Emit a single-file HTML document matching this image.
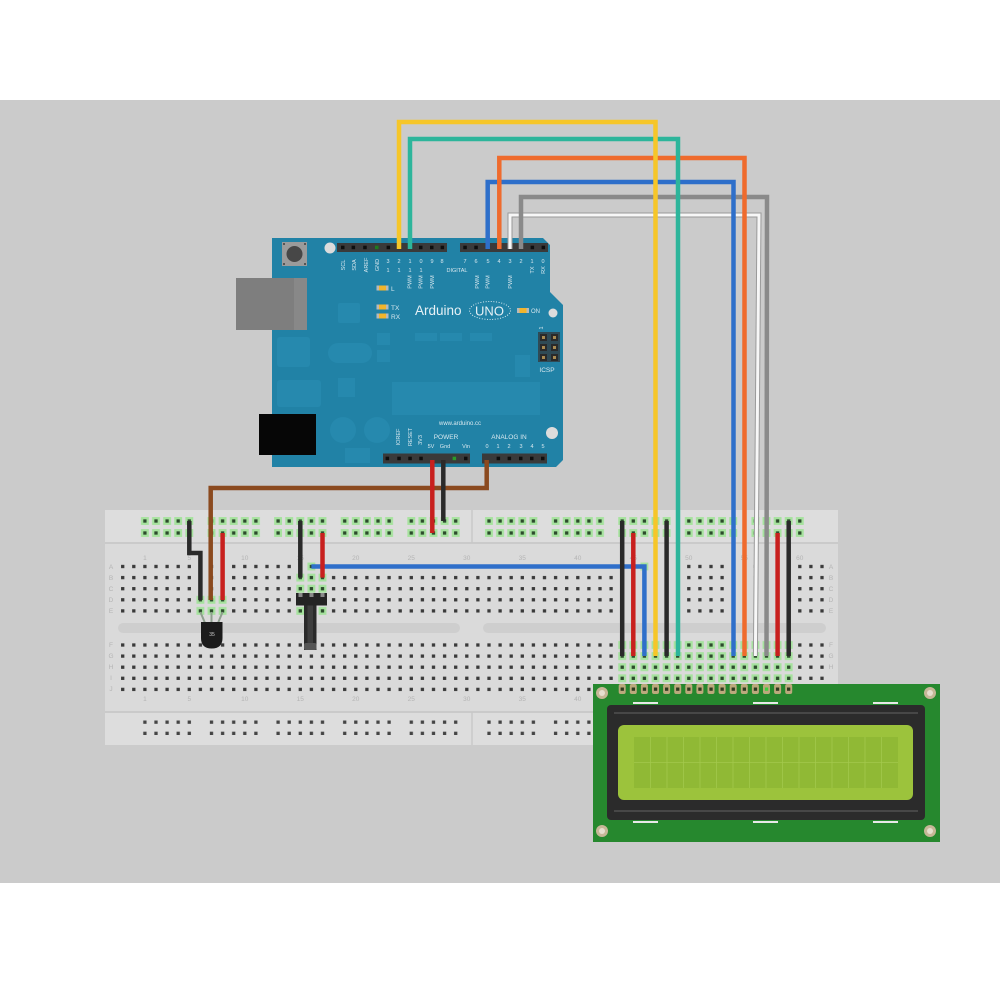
<!DOCTYPE html>
<html><head><meta charset="utf-8"><style>
html,body{margin:0;padding:0;background:#fff;}
svg{display:block;}
text{font-family:"Liberation Sans",sans-serif;}
</style></head><body>
<svg width="1000" height="1000" viewBox="0 0 1000 1000" xmlns="http://www.w3.org/2000/svg">
<defs>
<pattern id="hA" x="117.15" y="560.95" width="11.1" height="11.1" patternUnits="userSpaceOnUse"><rect x="3.9" y="3.9" width="3.3" height="3.3" fill="#3a3a3a"/></pattern>
<pattern id="hB" x="117.15" y="639.45" width="11.1" height="11.1" patternUnits="userSpaceOnUse"><rect x="3.9" y="3.9" width="3.3" height="3.3" fill="#3a3a3a"/></pattern>
<pattern id="gA" x="117.15" y="560.95" width="11.1" height="11.1" patternUnits="userSpaceOnUse"><rect x="1.6" y="1.6" width="7.9" height="7.9" fill="#a6e29e"/><rect x="3.9" y="3.9" width="3.3" height="3.3" fill="#2c4a2c"/></pattern>
<pattern id="gB" x="117.15" y="639.45" width="11.1" height="11.1" patternUnits="userSpaceOnUse"><rect x="1.6" y="1.6" width="7.9" height="7.9" fill="#a6e29e"/><rect x="3.9" y="3.9" width="3.3" height="3.3" fill="#2c4a2c"/></pattern>
<g id="rg5">
</g>
<pattern id="rgL" x="139.35" y="515" width="66.6" height="12" patternUnits="userSpaceOnUse">
 <g fill="#a6e29e"><rect x="1.6" y="2.05" width="7.9" height="7.9"/><rect x="12.7" y="2.05" width="7.9" height="7.9"/><rect x="23.8" y="2.05" width="7.9" height="7.9"/><rect x="34.9" y="2.05" width="7.9" height="7.9"/><rect x="46" y="2.05" width="7.9" height="7.9"/></g>
 <g fill="#2c4a2c"><rect x="3.9" y="4.35" width="3.3" height="3.3"/><rect x="15" y="4.35" width="3.3" height="3.3"/><rect x="26.1" y="4.35" width="3.3" height="3.3"/><rect x="37.2" y="4.35" width="3.3" height="3.3"/><rect x="48.3" y="4.35" width="3.3" height="3.3"/></g>
</pattern>
<pattern id="rgR" x="483.45" y="515" width="66.6" height="12" patternUnits="userSpaceOnUse">
 <g fill="#a6e29e"><rect x="1.6" y="2.05" width="7.9" height="7.9"/><rect x="12.7" y="2.05" width="7.9" height="7.9"/><rect x="23.8" y="2.05" width="7.9" height="7.9"/><rect x="34.9" y="2.05" width="7.9" height="7.9"/><rect x="46" y="2.05" width="7.9" height="7.9"/></g>
 <g fill="#2c4a2c"><rect x="3.9" y="4.35" width="3.3" height="3.3"/><rect x="15" y="4.35" width="3.3" height="3.3"/><rect x="26.1" y="4.35" width="3.3" height="3.3"/><rect x="37.2" y="4.35" width="3.3" height="3.3"/><rect x="48.3" y="4.35" width="3.3" height="3.3"/></g>
</pattern>
<pattern id="rbL" x="139.35" y="716.5" width="66.6" height="11.2" patternUnits="userSpaceOnUse">
 <g fill="#444"><rect x="3.9" y="4" width="3.3" height="3.3"/><rect x="15" y="4" width="3.3" height="3.3"/><rect x="26.1" y="4" width="3.3" height="3.3"/><rect x="37.2" y="4" width="3.3" height="3.3"/><rect x="48.3" y="4" width="3.3" height="3.3"/></g>
</pattern>
<pattern id="rbR" x="483.45" y="716.5" width="66.6" height="11.2" patternUnits="userSpaceOnUse">
 <g fill="#444"><rect x="3.9" y="4" width="3.3" height="3.3"/><rect x="15" y="4" width="3.3" height="3.3"/><rect x="26.1" y="4" width="3.3" height="3.3"/><rect x="37.2" y="4" width="3.3" height="3.3"/><rect x="48.3" y="4" width="3.3" height="3.3"/></g>
</pattern>
</defs>

<!-- background -->
<rect x="0" y="0" width="1000" height="1000" fill="#ffffff"/>
<rect x="0" y="100" width="1000" height="783" fill="#cbcbcb"/>

<!-- breadboard -->
<rect x="105" y="510" width="733" height="235" fill="#dadada"/>
<rect x="105" y="510" width="733" height="33" fill="#dddddd"/>
<rect x="105" y="712" width="733" height="33" fill="#dddddd"/>
<line x1="105" y1="543" x2="838" y2="543" stroke="#c4c4c4" stroke-width="1.5"/>
<line x1="105" y1="712" x2="838" y2="712" stroke="#c4c4c4" stroke-width="1.5"/>
<line x1="472" y1="510" x2="472" y2="543" stroke="#c8c8c8" stroke-width="1.5"/>
<line x1="472" y1="712" x2="472" y2="745" stroke="#c8c8c8" stroke-width="1.5"/>
<rect x="118" y="623" width="342" height="10" rx="5" fill="#cecece"/>
<rect x="483" y="623" width="343" height="10" rx="5" fill="#cecece"/>

<rect x="117.15" y="560.95" width="710.4" height="55.5" fill="url(#hA)"/>
<rect x="117.15" y="639.45" width="710.4" height="55.5" fill="url(#hB)"/>
<rect x="139.35" y="515" width="333" height="24" fill="url(#rgL)"/>
<rect x="483.45" y="515" width="333" height="24" fill="url(#rgR)"/>
<rect x="139.35" y="716.5" width="333" height="22.4" fill="url(#rbL)"/>
<rect x="483.45" y="716.5" width="333" height="22.4" fill="url(#rbR)"/>

<!-- highlights -->
<rect x="194.85" y="594.25" width="33.3" height="22.2" fill="url(#gA)"/>
<rect x="294.75" y="572.05" width="33.3" height="44.4" fill="url(#gA)"/>
<rect x="305.85" y="560.95" width="11.1" height="11.1" fill="url(#gA)"/>
<rect x="638.85" y="560.95" width="11.1" height="11.1" fill="url(#gA)"/>
<rect x="616.65" y="639.45" width="177.6" height="55.5" fill="url(#gB)"/>

<!-- breadboard labels -->
<g font-size="6.5" fill="#b4b4b4" text-anchor="middle">
<text x="144.9" y="560">1</text><text x="189.3" y="560">5</text><text x="244.8" y="560">10</text><text x="300.3" y="560">15</text><text x="355.8" y="560">20</text><text x="411.3" y="560">25</text><text x="466.8" y="560">30</text><text x="522.3" y="560">35</text><text x="577.8" y="560">40</text><text x="633.3" y="560">45</text><text x="688.8" y="560">50</text><text x="744.3" y="560">55</text><text x="799.8" y="560">60</text>
<text x="144.9" y="701">1</text><text x="189.3" y="701">5</text><text x="244.8" y="701">10</text><text x="300.3" y="701">15</text><text x="355.8" y="701">20</text><text x="411.3" y="701">25</text><text x="466.8" y="701">30</text><text x="522.3" y="701">35</text><text x="577.8" y="701">40</text>
<text x="111" y="569">A</text><text x="111" y="580">B</text><text x="111" y="591">C</text><text x="111" y="602">D</text><text x="111" y="613">E</text>
<text x="111" y="647">F</text><text x="111" y="658">G</text><text x="111" y="669">H</text><text x="111" y="680">I</text><text x="111" y="691">J</text>
<text x="831" y="569">A</text><text x="831" y="580">B</text><text x="831" y="591">C</text><text x="831" y="602">D</text><text x="831" y="613">E</text>
<text x="831" y="647">F</text><text x="831" y="658">G</text><text x="831" y="669">H</text>
</g>

<!-- LCD -->
<rect x="593" y="684" width="347" height="158" fill="#26882e"/>
<g fill="#c6b797"><circle cx="602" cy="693" r="6"/><circle cx="930" cy="693" r="6"/><circle cx="602" cy="831" r="6"/><circle cx="930" cy="831" r="6"/></g>
<g fill="#e6dfcf"><circle cx="602" cy="693" r="3"/><circle cx="930" cy="693" r="3"/><circle cx="602" cy="831" r="3"/><circle cx="930" cy="831" r="3"/></g>
<g fill="#e8e8e8"><rect x="633" y="702" width="25" height="2"/><rect x="753" y="702" width="25" height="2"/><rect x="873" y="702" width="25" height="2"/><rect x="633" y="821" width="25" height="2"/><rect x="753" y="821" width="25" height="2"/><rect x="873" y="821" width="25" height="2"/></g>
<rect x="607" y="705" width="318" height="115" rx="4" fill="#2b2b2b"/>
<rect x="614" y="712" width="304" height="2" fill="#474747"/>
<rect x="614" y="810" width="304" height="2" fill="#474747"/>
<rect x="618" y="725" width="295" height="75" rx="6" fill="#9cc33c"/>
<rect x="634" y="737" width="264" height="51" fill="#90b935"/>
<g stroke="#a3c84d" stroke-width="0.8">
<line x1="650.5" y1="737" x2="650.5" y2="788"/><line x1="667" y1="737" x2="667" y2="788"/><line x1="683.5" y1="737" x2="683.5" y2="788"/><line x1="700" y1="737" x2="700" y2="788"/><line x1="716.5" y1="737" x2="716.5" y2="788"/><line x1="733" y1="737" x2="733" y2="788"/><line x1="749.5" y1="737" x2="749.5" y2="788"/><line x1="766" y1="737" x2="766" y2="788"/><line x1="782.5" y1="737" x2="782.5" y2="788"/><line x1="799" y1="737" x2="799" y2="788"/><line x1="815.5" y1="737" x2="815.5" y2="788"/><line x1="832" y1="737" x2="832" y2="788"/><line x1="848.5" y1="737" x2="848.5" y2="788"/><line x1="865" y1="737" x2="865" y2="788"/><line x1="881.5" y1="737" x2="881.5" y2="788"/>
<line x1="634" y1="762.5" x2="898" y2="762.5"/>
</g>
<!-- LCD pins -->
<g fill="#bba97c">
<rect x="618.7" y="684" width="7" height="10" rx="2"/><rect x="629.8" y="684" width="7" height="10" rx="2"/><rect x="640.9" y="684" width="7" height="10" rx="2"/><rect x="652" y="684" width="7" height="10" rx="2"/><rect x="663.1" y="684" width="7" height="10" rx="2"/><rect x="674.2" y="684" width="7" height="10" rx="2"/><rect x="685.3" y="684" width="7" height="10" rx="2"/><rect x="696.4" y="684" width="7" height="10" rx="2"/><rect x="707.5" y="684" width="7" height="10" rx="2"/><rect x="718.6" y="684" width="7" height="10" rx="2"/><rect x="729.7" y="684" width="7" height="10" rx="2"/><rect x="740.8" y="684" width="7" height="10" rx="2"/><rect x="751.9" y="684" width="7" height="10" rx="2"/><rect x="763" y="684" width="7" height="10" rx="2"/><rect x="774.1" y="684" width="7" height="10" rx="2"/><rect x="785.2" y="684" width="7" height="10" rx="2"/>
</g>
<g fill="#2f3a20">
<rect x="620.6" y="687.5" width="3.3" height="3.3"/><rect x="631.7" y="687.5" width="3.3" height="3.3"/><rect x="642.8" y="687.5" width="3.3" height="3.3"/><rect x="653.9" y="687.5" width="3.3" height="3.3"/><rect x="665" y="687.5" width="3.3" height="3.3"/><rect x="676.1" y="687.5" width="3.3" height="3.3"/><rect x="687.2" y="687.5" width="3.3" height="3.3"/><rect x="698.3" y="687.5" width="3.3" height="3.3"/><rect x="709.4" y="687.5" width="3.3" height="3.3"/><rect x="720.5" y="687.5" width="3.3" height="3.3"/><rect x="731.6" y="687.5" width="3.3" height="3.3"/><rect x="742.7" y="687.5" width="3.3" height="3.3"/><rect x="753.8" y="687.5" width="3.3" height="3.3"/><rect x="775.9" y="687.5" width="3.3" height="3.3"/><rect x="787" y="687.5" width="3.3" height="3.3"/>
</g>
<rect x="764.9" y="687.5" width="3.3" height="3.3" fill="#3fd03f"/>

<!-- temperature sensor -->
<g stroke="#8fa08f" stroke-width="2" fill="none">
<line x1="200.4" y1="612" x2="205" y2="623"/><line x1="211.5" y1="612" x2="211.5" y2="623"/><line x1="222.6" y1="612" x2="218" y2="623"/>
</g>
<path d="M201,622 H222.5 V638 Q222.5,648.5 211.7,648.5 Q201,648.5 201,638 Z" fill="#1b1b1b"/>
<text x="212" y="636" font-size="5" fill="#cccccc" text-anchor="middle">35</text>

<!-- potentiometer -->
<rect x="304" y="605" width="12.5" height="45" fill="#2a2a2a"/>
<rect x="307.5" y="605" width="5.5" height="42" fill="#3e3e3e"/>
<rect x="304" y="643" width="12.5" height="7" rx="2" fill="#555"/>
<rect x="296" y="593" width="31" height="12.5" fill="#242424"/>
<g fill="#8a8a8a"><rect x="298.5" y="593" width="4" height="4"/><rect x="309.5" y="593" width="4" height="4"/><rect x="320.5" y="593" width="4" height="4"/></g>

<!-- Arduino -->
<path d="M272,238 H543 L550,245 V292 L563,305 V460 L556,467 H272 Z" fill="#2182a6"/>
<g fill="#2689ae">
<rect x="338" y="303" width="22" height="20" rx="2"/>
<rect x="277" y="337" width="33" height="30" rx="3"/>
<rect x="328" y="343" width="44" height="20" rx="10"/>
<rect x="277" y="380" width="44" height="27" rx="3"/>
<rect x="338" y="378" width="17" height="19"/>
<circle cx="343" cy="430" r="13"/>
<circle cx="377" cy="430" r="13"/>
<rect x="345" y="448" width="25" height="15"/>
<rect x="392" y="382" width="148" height="33"/>
<rect x="377" y="333" width="13" height="12"/>
<rect x="377" y="350" width="13" height="12"/>
<rect x="415" y="333" width="22" height="8"/>
<rect x="440" y="333" width="22" height="8"/>
<rect x="470" y="333" width="22" height="8"/>
<rect x="515" y="355" width="15" height="22"/>
</g>
<rect x="236" y="278" width="71" height="52" fill="#7e7e7e"/>
<rect x="294" y="278" width="13" height="52" fill="#888888"/>
<rect x="259" y="414" width="57" height="41" fill="#060606"/>
<rect x="282" y="242" width="25" height="24" fill="#9b9b9b"/>
<circle cx="294.5" cy="254" r="8" fill="#474747"/>
<g fill="#555"><rect x="283" y="243" width="2" height="2"/><rect x="304" y="243" width="2" height="2"/><rect x="283" y="263" width="2" height="2"/><rect x="304" y="263" width="2" height="2"/></g>
<g fill="#dcdcdc"><circle cx="330" cy="248" r="5.5"/><circle cx="553" cy="313" r="4.5"/><circle cx="552" cy="433" r="6"/></g>

<!-- headers -->
<rect x="337" y="243" width="110" height="9" fill="#3a3a3a"/>
<rect x="460" y="243" width="88" height="9" fill="#3a3a3a"/>
<rect x="383" y="453.5" width="87" height="10" fill="#3a3a3a"/>
<rect x="482" y="453.5" width="65" height="10" fill="#3a3a3a"/>
<g fill="#0e0e0e">
<rect x="341" y="245.7" width="3.5" height="3.5"/><rect x="351.6" y="245.7" width="3.5" height="3.5"/><rect x="363.2" y="245.7" width="3.5" height="3.5"/><rect x="386.6" y="245.7" width="3.5" height="3.5"/><rect x="419" y="245.7" width="3.5" height="3.5"/><rect x="430" y="245.7" width="3.5" height="3.5"/><rect x="440.6" y="245.7" width="3.5" height="3.5"/>
<rect x="463.3" y="245.7" width="3.5" height="3.5"/><rect x="474.3" y="245.7" width="3.5" height="3.5"/><rect x="530.6" y="245.7" width="3.5" height="3.5"/><rect x="541.6" y="245.7" width="3.5" height="3.5"/>
<rect x="385.6" y="456.7" width="3.5" height="3.5"/><rect x="397.3" y="456.7" width="3.5" height="3.5"/><rect x="408.3" y="456.7" width="3.5" height="3.5"/><rect x="419.3" y="456.7" width="3.5" height="3.5"/><rect x="464" y="456.7" width="3.5" height="3.5"/>
<rect x="496.6" y="456.7" width="3.5" height="3.5"/><rect x="507.6" y="456.7" width="3.5" height="3.5"/><rect x="519" y="456.7" width="3.5" height="3.5"/><rect x="530" y="456.7" width="3.5" height="3.5"/><rect x="541" y="456.7" width="3.5" height="3.5"/>
</g>
<rect x="375" y="245.7" width="3.5" height="3.5" fill="#1f7a1f"/>
<rect x="452.6" y="456.7" width="3.5" height="3.5" fill="#2a9a2a"/>

<!-- Arduino text -->
<g fill="#d8e8ef" font-size="5.5" text-anchor="middle">
<text transform="translate(345,265) rotate(-90)">SCL</text>
<text transform="translate(356,265) rotate(-90)">SDA</text>
<text transform="translate(368,265) rotate(-90)">AREF</text>
<text transform="translate(379,265) rotate(-90)">GND</text>
<text x="388" y="263">3</text><text x="399" y="263">2</text><text x="410" y="263">1</text><text x="421" y="263">0</text><text x="432" y="263">9</text><text x="442" y="263">8</text>
<text x="388" y="272">1</text><text x="399" y="272">1</text><text x="410" y="272">1</text><text x="421" y="272">1</text>
<text x="457" y="272">DIGITAL</text>
<text x="465" y="263">7</text><text x="476" y="263">6</text><text x="488" y="263">5</text><text x="499" y="263">4</text><text x="510" y="263">3</text><text x="521" y="263">2</text><text x="532" y="263">1</text><text x="543" y="263">0</text>
<text transform="translate(534,270) rotate(-90)">TX</text>
<text transform="translate(545,270) rotate(-90)">RX</text>
<text transform="translate(411.5,282) rotate(-90)">PWM</text>
<text transform="translate(422.5,282) rotate(-90)">PWM</text>
<text transform="translate(434,282) rotate(-90)">PWM</text>
<text transform="translate(479,282) rotate(-90)">PWM</text>
<text transform="translate(489.5,282) rotate(-90)">PWM</text>
<text transform="translate(512,282) rotate(-90)">PWM</text>
<text transform="translate(400,437) rotate(-90)">IOREF</text>
<text transform="translate(412,437) rotate(-90)">RESET</text>
<text transform="translate(422,440) rotate(-90)">3V3</text>
<text x="431" y="448">5V</text><text x="445" y="448">Gnd</text><text x="466" y="448">Vin</text>
<text x="487" y="448">0</text><text x="498" y="448">1</text><text x="509" y="448">2</text><text x="521" y="448">3</text><text x="532" y="448">4</text><text x="543" y="448">5</text>
<text x="460" y="425" font-size="6">www.arduino.cc</text>
<text x="446" y="439" font-size="6.5">POWER</text>
<text x="509" y="439" font-size="6.5">ANALOG IN</text>
<text x="547" y="372" font-size="6.5">ICSP</text>
<text transform="translate(543,328) rotate(-90)">1</text>
</g>
<!-- LEDs -->
<g>
<rect x="376.5" y="285.5" width="12" height="5" fill="#b9b9b9"/><rect x="379" y="285.5" width="7" height="5" fill="#f2b52c"/>
<rect x="376.5" y="304.5" width="12" height="5" fill="#b9b9b9"/><rect x="379" y="304.5" width="7" height="5" fill="#f2b52c"/>
<rect x="376.5" y="313.5" width="12" height="5" fill="#b9b9b9"/><rect x="379" y="313.5" width="7" height="5" fill="#f2b52c"/>
<rect x="517" y="308" width="12" height="5" fill="#b9b9b9"/><rect x="519.5" y="308" width="7" height="5" fill="#f2b52c"/>
</g>
<g fill="#d8e8ef" font-size="6.5">
<text x="391" y="291">L</text><text x="391" y="310">TX</text><text x="391" y="319">RX</text><text x="531" y="313" font-size="6">ON</text>
</g>
<text x="415" y="315" font-size="13.5" fill="#e6f1f6">Arduino</text>
<text x="489.5" y="315.5" font-size="13" fill="#e6f1f6" text-anchor="middle">UNO</text>
<ellipse cx="490" cy="310.5" rx="20.5" ry="9" fill="none" stroke="#d3e7ef" stroke-width="1" stroke-dasharray="1 1.6"/>
<!-- ICSP -->
<rect x="538" y="332" width="22" height="30" fill="#2f4a55"/>
<g fill="#2a2a2a"><rect x="540" y="334" width="7" height="7"/><rect x="551" y="334" width="7" height="7"/><rect x="540" y="344" width="7" height="7"/><rect x="551" y="344" width="7" height="7"/><rect x="540" y="354" width="7" height="7"/><rect x="551" y="354" width="7" height="7"/></g>
<g fill="#a88a52"><rect x="542" y="336" width="3" height="3"/><rect x="553" y="336" width="3" height="3"/><rect x="542" y="346" width="3" height="3"/><rect x="553" y="346" width="3" height="3"/><rect x="542" y="356" width="3" height="3"/><rect x="553" y="356" width="3" height="3"/></g>

<!-- breadboard wires -->
<g fill="none" stroke-linejoin="miter" stroke-linecap="butt">
<path d="M486.7,460 V488 H210.7 V600" stroke="#8b4a1f" stroke-width="4.5"/>
<path d="M443.3,460 V521" stroke="#2a2a2a" stroke-width="4.5"/>
<path d="M432.3,460 V533" stroke="#c8201e" stroke-width="4.5"/>
<path d="M189.3,521 V553 H200.4 V600" stroke="#2a2a2a" stroke-width="4.5"/>
<path d="M222.6,533 V600" stroke="#c8201e" stroke-width="4.5"/>
<path d="M311.4,566.5 H644.4 V656" stroke="#2f6fca" stroke-width="4.5"/>
<path d="M300.3,521 V577.6" stroke="#2a2a2a" stroke-width="4.5"/>
<path d="M322.5,533 V577.6" stroke="#c8201e" stroke-width="4.5"/>
<path d="M622.2,521 V656" stroke="#2a2a2a" stroke-width="4.5"/>
<path d="M633.3,533 V656" stroke="#c8201e" stroke-width="4.5"/>
<path d="M666.6,521 V656" stroke="#2a2a2a" stroke-width="4.5"/>
<path d="M777.6,533 V656" stroke="#c8201e" stroke-width="4.5"/>
<path d="M788.7,521 V656" stroke="#2a2a2a" stroke-width="4.5"/>
<!-- top wires -->
<path d="M510,249 V215 H759 L755.4,656" stroke="#9a9a9a" stroke-width="5"/>
<path d="M510,249 V215 H759 L755.4,656" stroke="#f7f7f7" stroke-width="3"/>
<path d="M521,249 V197 H767 L766.5,656" stroke="#8a8a8a" stroke-width="4.5"/>
<path d="M487.7,249 V182 H733.5 V656" stroke="#2e6fca" stroke-width="4.5"/>
<path d="M499.3,249 V158 H744.5 V656" stroke="#ef6b2d" stroke-width="4.5"/>
<path d="M410,249 V139 H678 V656" stroke="#2db59b" stroke-width="4.5"/>
<path d="M399,249 V122 H655.5 V656" stroke="#f6c629" stroke-width="4.5"/>
</g>
</svg>
</body></html>
